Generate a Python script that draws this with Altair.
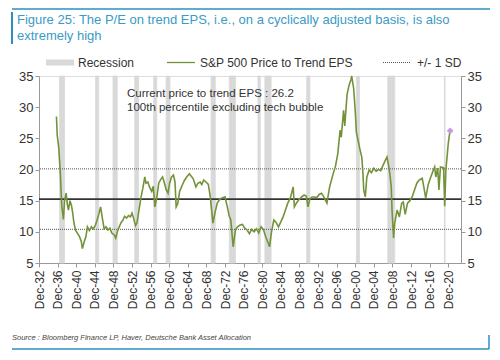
import altair as alt
import pandas as pd

# ---------------- data ----------------
dates = [
    "1936-09", "1936-11", "1937-01", "1937-03", "1937-05", "1937-07", "1937-09", "1937-11",
    "1938-01", "1938-03", "1938-06", "1938-10", "1939-01", "1939-04", "1939-08", "1939-12",
    "1940-03", "1940-06", "1940-10", "1941-03", "1941-08", "1942-01", "1942-04", "1942-09",
    "1943-01", "1943-05", "1943-10", "1944-03", "1944-08", "1945-01", "1945-06", "1945-11",
    "1946-03", "1946-08", "1946-12", "1947-05", "1947-10", "1948-03", "1948-08", "1949-02",
    "1949-06", "1949-10", "1950-03", "1950-08", "1950-12", "1951-05", "1951-10", "1952-03",
    "1952-08", "1952-12", "1953-04", "1953-09", "1954-01", "1954-06", "1954-11", "1955-04",
    "1955-09", "1955-12", "1956-05", "1956-09", "1957-03", "1957-07", "1957-11", "1958-04",
    "1958-09", "1959-03", "1959-07", "1959-11", "1960-04", "1960-09", "1961-01", "1961-06",
    "1961-11", "1962-03", "1962-06", "1962-10", "1963-03", "1963-09", "1964-03", "1964-09",
    "1965-04", "1965-09", "1966-02", "1966-09", "1967-02", "1967-08", "1967-12", "1968-05",
    "1968-11", "1969-05", "1969-10", "1970-05", "1970-10", "1971-04", "1971-09", "1972-03",
    "1972-12", "1973-06", "1973-11", "1974-03", "1974-09", "1975-03", "1975-08", "1976-03",
    "1976-09", "1977-03", "1977-09", "1978-03", "1978-09", "1979-03", "1979-09", "1980-03",
    "1980-09", "1981-03", "1981-09", "1982-03", "1982-07", "1982-12", "1983-06", "1983-12",
    "1984-06", "1984-12", "1985-06", "1985-12", "1986-06", "1987-01", "1987-08", "1987-11",
    "1988-04", "1988-10", "1989-06", "1989-12", "1990-06", "1990-10", "1991-03", "1991-09",
    "1992-03", "1992-09", "1993-03", "1993-09", "1994-03", "1994-11", "1995-06", "1996-03",
    "1996-09", "1997-03", "1997-09", "1997-12", "1998-06", "1998-09", "1999-03", "1999-08",
    "2000-01", "2000-03", "2000-08", "2000-12", "2001-03", "2001-09", "2002-01", "2002-05",
    "2002-08", "2002-10", "2003-02", "2003-06", "2003-12", "2004-06", "2004-12", "2005-06",
    "2005-12", "2006-06", "2006-12", "2007-06", "2007-10", "2008-02", "2008-06", "2008-09",
    "2008-11", "2009-03", "2009-06", "2009-12", "2010-06", "2010-12", "2011-04", "2011-09",
    "2012-03", "2012-09", "2013-03", "2013-09", "2014-03", "2014-09", "2015-05", "2015-09",
    "2016-02", "2016-08", "2017-03", "2017-09", "2018-01", "2018-04", "2018-09", "2018-12",
    "2019-04", "2019-12", "2020-03", "2020-06", "2020-09", "2020-12", "2021-03", "2021-05",
]
pe = [
    28.5, 25.5, 24.5, 23.5, 21.5, 19.5, 16.5, 14.0,
    13.0, 12.0, 15.0, 16.2, 14.5, 13.5, 15.0, 14.2,
    13.0, 11.5, 10.3, 9.8, 9.3, 8.5, 7.3, 8.5,
    9.2, 10.8, 10.2, 10.8, 10.5, 11.0, 11.9, 13.0,
    14.0, 12.0, 10.5, 10.8, 10.3, 10.6, 9.8, 9.5,
    9.0, 10.0, 10.8, 11.5, 11.8, 12.5, 12.2, 12.6,
    12.4, 13.0, 12.2, 11.0, 11.5, 13.5, 15.5, 17.0,
    18.8, 17.8, 18.0, 17.2, 16.5, 17.3, 14.0, 15.5,
    17.8, 18.5, 18.8, 18.0, 16.8, 16.2, 17.8, 18.8,
    19.1, 18.0, 14.0, 14.5, 16.5, 17.4, 18.2, 18.8,
    19.3, 18.9, 18.5, 17.2, 17.8, 18.0, 17.6, 18.3,
    18.0, 17.6, 15.6, 11.4, 13.0, 14.6, 15.1, 15.4,
    15.6, 14.0, 12.5, 11.9, 7.6, 10.3, 10.8, 11.1,
    11.2, 10.6, 10.3, 9.7, 10.4, 10.0, 10.5, 9.8,
    10.8, 10.4, 9.2, 8.3, 7.6, 10.0, 11.9, 11.5,
    10.8, 11.6, 12.4, 13.5, 14.6, 15.5, 17.2, 14.0,
    14.6, 15.1, 15.6, 15.9, 15.7, 14.0, 15.3, 15.6,
    15.6, 15.5, 16.0, 16.2, 15.6, 14.6, 17.2, 19.3,
    20.5, 22.5, 26.3, 25.2, 29.5, 27.0, 32.0, 33.5,
    34.4, 35.0, 33.0, 29.5, 26.0, 24.2, 23.0, 22.0,
    19.3, 16.7, 15.6, 18.8, 19.9, 19.5, 20.2, 19.7,
    20.0, 19.8, 20.7, 21.5, 22.0, 20.7, 19.0, 17.2,
    13.5, 9.0, 11.4, 13.5, 12.4, 14.6, 14.8, 12.8,
    14.6, 15.0, 15.6, 16.7, 17.8, 18.3, 18.6, 17.2,
    15.4, 17.5, 18.8, 19.8, 20.4, 18.8, 20.2, 16.7,
    20.4, 20.3, 14.1, 20.0, 22.0, 24.1, 25.5, 26.2,
]

rec_start = ["1937-05", "1945-02", "1948-11", "1953-07", "1957-08", "1960-04", "1969-12",
             "1973-11", "1980-01", "1981-07", "1990-07", "2001-03", "2007-12", "2020-02"]
rec_end = ["1938-06", "1945-10", "1949-10", "1954-05", "1958-04", "1961-02", "1970-11",
           "1975-03", "1980-07", "1982-11", "1991-03", "2001-11", "2009-06", "2020-04"]

mean_pe = 15.25
sd_upper = 20.1
sd_lower = 10.4

current_date = ["2021-05"]
current_pe = [26.2]

tick_years = list(range(1932, 2021, 4))
y_ticks = [5, 10, 15, 20, 25, 30, 35]

# ---------------- frames ----------------
df = pd.DataFrame({"date": pd.to_datetime(dates), "pe": pe})
rec = pd.DataFrame({"start": pd.to_datetime(rec_start), "end": pd.to_datetime(rec_end)})
sd = pd.DataFrame({"v": [sd_upper, sd_lower]})
mn = pd.DataFrame({"v": [mean_pe]})
cur = pd.DataFrame({"date": pd.to_datetime(current_date), "pe": current_pe})

FONT = "Liberation Sans"
W, H = 422, 187
GREEN = "#74923a"

x_dom = [alt.DateTime(year=1932, month=12, date=1), alt.DateTime(year=2023, month=9, date=1)]
x_scale = alt.Scale(domain=x_dom)
y_scale = alt.Scale(domain=[5, 35], nice=False, zero=False)

x_axis = alt.Axis(
    values=[alt.DateTime(year=y, month=12, date=1) for y in tick_years],
    format="%b-%y", labelAngle=-90, labelFontSize=12, labelFont=FONT,
    labelColor="#333333", tickColor="#999999", domainColor="#999999",
    tickSize=4, labelPadding=3, grid=False, title=None, labelOverlap=False,
)
y_left = alt.Axis(values=y_ticks, orient="left", labelFontSize=13, labelFont=FONT,
                  labelColor="#333333", tickColor="#999999", domainColor="#999999",
                  tickSize=4, labelPadding=2, grid=False, title=None)
y_right = alt.Axis(values=y_ticks, orient="right", labelFontSize=13, labelFont=FONT,
                   labelColor="#333333", tickColor="#999999", domainColor="#999999",
                   tickSize=4, labelPadding=2, grid=False, title=None)

bands = alt.Chart(rec).mark_rect(color="#d9d9d9", stroke="#d9d9d9", strokeWidth=0.8).encode(
    x=alt.X("start:T", scale=x_scale, axis=x_axis),
    x2="end:T",
    y=alt.value(0), y2=alt.value(H),
)

sd_rules = alt.Chart(sd).mark_rule(color="#555555", strokeWidth=1, strokeDash=[1, 1]).encode(
    y=alt.Y("v:Q", scale=y_scale, axis=y_right),
)
mean_rule = alt.Chart(mn).mark_rule(color="#333333", strokeWidth=1.6).encode(
    y=alt.Y("v:Q", scale=y_scale, axis=None),
)

line = alt.Chart(df).mark_line(color=GREEN, strokeWidth=1.6).encode(
    x=alt.X("date:T", scale=x_scale, axis=x_axis),
    y=alt.Y("pe:Q", scale=y_scale, axis=y_left),
)

point = alt.Chart(cur).mark_point(shape="diamond", filled=True, color="#c39be0", size=45, opacity=1).encode(
    x=alt.X("date:T", scale=x_scale, axis=x_axis),
    y=alt.Y("pe:Q", scale=y_scale, axis=None),
)

one = alt.Data(values=[{}])


def txt(text, x, y, size=12, color="#333333", style="normal", align="left"):
    return alt.Chart(one).mark_text(
        text=text, align=align, baseline="middle", font=FONT, fontSize=size,
        color=color, fontStyle=style,
    ).encode(x=alt.value(x), y=alt.value(y))


def seg(x1, x2, y1, y2, color, width, dash=None):
    kw = dict(color=color, strokeWidth=width)
    if dash:
        kw["strokeDash"] = dash
    return alt.Chart(one).mark_rule(**kw).encode(
        x=alt.value(x1), x2=alt.value(x2), y=alt.value(y1), y2=alt.value(y2))


BLUE = "#2b8fc0"
TITLE_BLUE = "#3a9bc4"

deco = [
    seg(-27, 451, -67, -67, BLUE, 1.5),
    seg(-27, -27, -64, -32, BLUE, 2),
    txt("Figure 25: The P/E on trend EPS, i.e., on a cyclically adjusted basis, is also", -22, -56, 13, TITLE_BLUE),
    txt("extremely high", -22, -40, 13, TITLE_BLUE),
    # legend
    alt.Chart(one).mark_rect(color="#d9d9d9").encode(
        x=alt.value(7), x2=alt.value(35), y=alt.value(-16.5), y2=alt.value(-10.5)),
    txt("Recession", 39, -13.5, 12),
    seg(128, 156, -13.5, -13.5, GREEN, 1.3),
    txt("S&P 500 Price to Trend EPS", 161, -13.5, 12),
    seg(344, 371, -13.5, -13.5, "#555555", 1, [1, 1]),
    txt("+/- 1 SD", 378, -13.5, 12),
    # annotation
    txt("Current price to trend EPS : 26.2", 88, 18, 11.5),
    txt("100th percentile excluding tech bubble", 88, 32, 11.5),
    # footer
    txt("Source : Bloomberg Finance LP, Haver, Deutsche Bank Asset Allocation", -27, 262, 7.5, "#444444", "italic"),
    seg(-27, 450, 273, 273, BLUE, 1.5),
    seg(450, 450, 259, 273, BLUE, 1.5),
]

chart = alt.layer(bands, sd_rules, mean_rule, line, point, *deco).resolve_scale(
    y="independent"
).properties(
    width=W, height=H,
    autosize=alt.AutoSizeParams(type="none"),
    padding={"left": 31, "top": 68, "right": 31, "bottom": 97},
).configure_view(stroke=None).configure(background="white")

chart.save("out.html", embed_options={"renderer": "svg", "actions": False})
